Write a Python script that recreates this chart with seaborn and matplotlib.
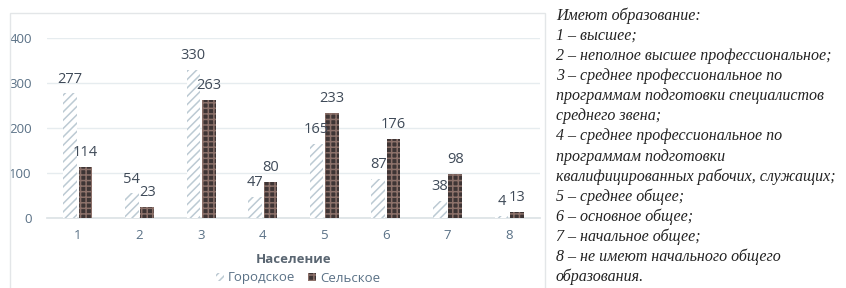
import matplotlib
matplotlib.use("Agg")
import matplotlib.pyplot as plt
import seaborn as sns
import pandas as pd
from matplotlib.patches import Rectangle, Patch

categories = ["1", "2", "3", "4", "5", "6", "7", "8"]
urban = [277, 54, 330, 47, 165, 87, 38, 4]
rural = [114, 23, 263, 80, 233, 176, 98, 13]
series_names = ["Городское", "Сельское"]
y_ticks = [0, 100, 200, 300, 400]
x_title = "Население"
notes = [
    "Имеют образование:",
    "1 – высшее;",
    "2 – неполное высшее профессиональное;",
    "3 – среднее профессиональное по",
    "программам подготовки специалистов",
    "среднего звена;",
    "4 – среднее профессиональное по",
    "программам подготовки",
    "квалифицированных рабочих, служащих;",
    "5 – среднее общее;",
    "6 – основное общее;",
    "7 – начальное общее;",
    "8 – не имеют начального общего",
    "образования.",
]

df = pd.DataFrame({
    "cat": categories * 2,
    "val": urban + rural,
    "type": [series_names[0]] * len(categories) + [series_names[1]] * len(categories),
})

sns.set_theme(style="white")
plt.rcParams["hatch.linewidth"] = 1.1

W, H = 846, 288
fig = plt.figure(figsize=(W / 100, H / 100), dpi=100)
ax = fig.add_axes([47 / W, 1 - 217.7 / H, (540 - 47) / W, (217.7 - 38.3) / H])

# panel border
fig.patches.append(Rectangle((10 / W, -0.05), (545 - 10) / W, 1 - 13 / H + 0.05,
                             transform=fig.transFigure, fill=False,
                             edgecolor="#e3e6e8", linewidth=1.0, zorder=0))

sns.barplot(data=df, x="cat", y="val", hue="type", ax=ax, width=0.5, gap=0.12,
            palette=["#ffffff", "#4f4444"], legend=False, zorder=3)

urban_style = dict(facecolor="#ffffff", hatch="////", edgecolor="#bccad3", linewidth=0)
rural_style = dict(facecolor="#3e3535", hatch="+++", edgecolor="#8c716a", linewidth=0)
for cont, st in zip(ax.containers, [urban_style, rural_style]):
    for bar in cont:
        bar.set_facecolor(st["facecolor"])
        bar.set_hatch(st["hatch"])
        bar.set_edgecolor(st["edgecolor"])
        bar.set_linewidth(st["linewidth"])
    ax.bar_label(cont, padding=5, fontsize=10.5, color="#3f4a58", family="Open Sans")

ax.set_ylim(0, 400)
ax.set_xlim(-0.5, len(categories) - 0.5)
ax.set_yticks(y_ticks)
ax.set_yticklabels([str(t) for t in y_ticks], fontsize=9.5, color="#5a7186", family="Open Sans")
ax.set_xticks(range(len(categories)))
ax.set_xticklabels(categories, fontsize=9.5, color="#5a7186", family="Open Sans")
ax.tick_params(axis="x", length=0, pad=8)
ax.tick_params(axis="y", length=0, pad=11)
ax.grid(axis="y", color="#e6ecef", linewidth=1.0, zorder=0)
ax.set_axisbelow(True)
for s in ["top", "right", "left"]:
    ax.spines[s].set_visible(False)
ax.spines["bottom"].set_color("#dde3e6")
ax.set_ylabel("")
ax.set_xlabel(x_title, fontsize=9.5, fontweight="bold", color="#5a6672",
              family="Open Sans", labelpad=8)

handles = [Patch(**urban_style, label=series_names[0]),
           Patch(**rural_style, label=series_names[1])]
fig.legend(handles=handles, loc="center", bbox_to_anchor=(298 / W, 1 - 278 / H),
           ncol=2, frameon=False, handlelength=0.6, handleheight=0.6,
           handletextpad=0.3, columnspacing=1.0, labelcolor="#5a7186",
           prop={"family": "Open Sans", "size": 9.5})

step = (277 - 16) / (len(notes) - 1)
for i, t in enumerate(notes):
    fig.text(556 / W, 1 - (16 + i * step) / H, t, fontsize=11.5, style="italic",
             family="Liberation Serif", color="#222222", va="center", ha="left")

fig.savefig("out.png", dpi=100)
